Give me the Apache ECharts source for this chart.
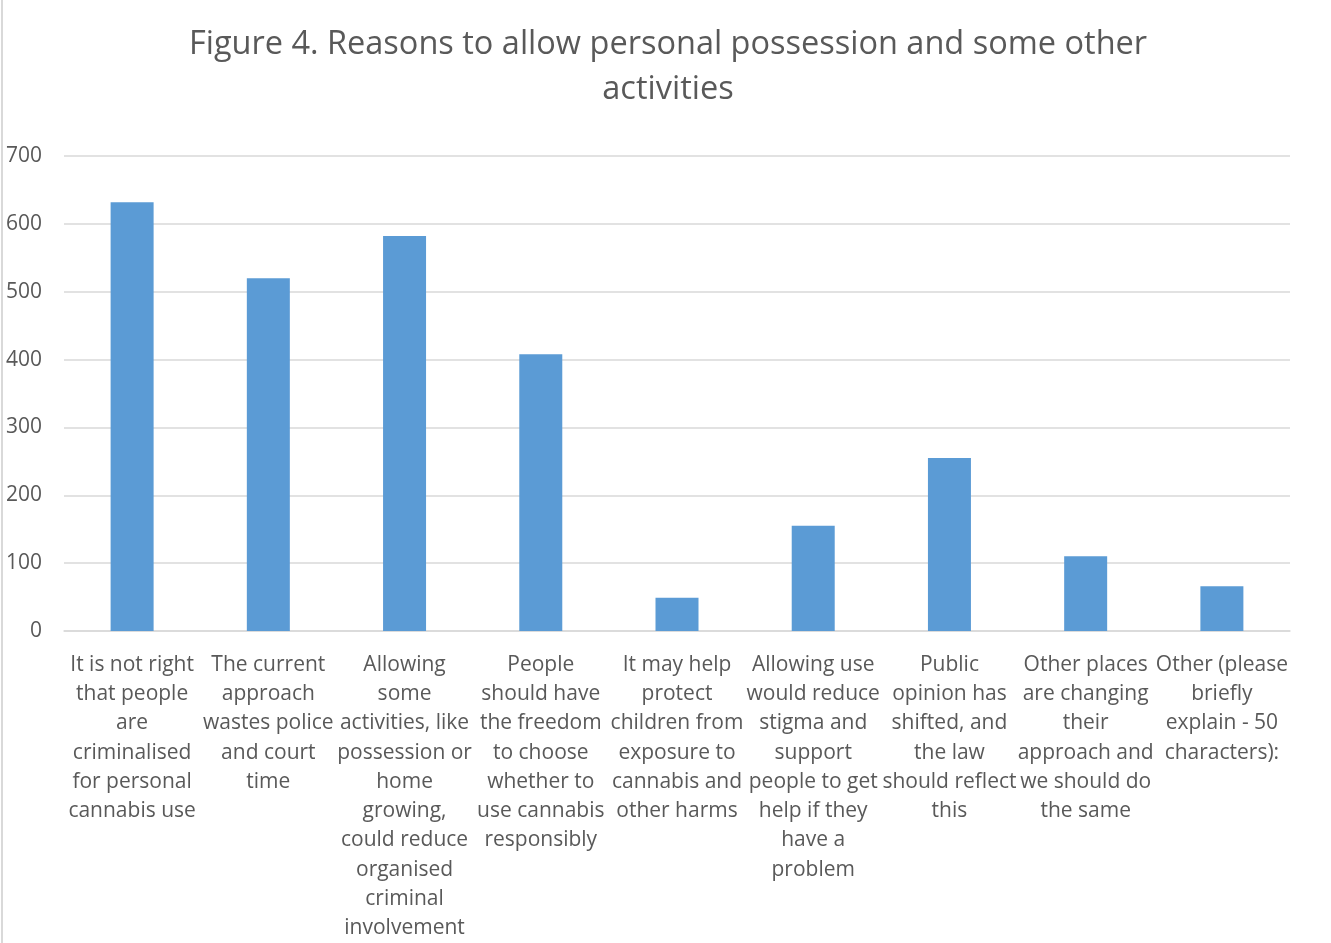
<!DOCTYPE html>
<html>
<head>
<meta charset="utf-8">
<title>Figure 4</title>
<script src="https://cdn.jsdelivr.net/npm/echarts@6/dist/echarts.min.js"></script>
<style>
  html, body { margin: 0; padding: 0; background: #fff; }
  #wrap { position: relative; width: 1331px; height: 943px; }
  #chart { width: 1331px; height: 943px; }
  #edge { position: absolute; left: 1px; top: 0; width: 2px; height: 943px; background: #d9d9d9; }
</style>
</head>
<body>
<div id="wrap">
  <div id="chart"></div>
  <div id="edge"></div>
</div>
<script>
// Response categories (wrapped as in the survey chart)
const categories = [
  'It is not right\nthat people\nare\ncriminalised\nfor personal\ncannabis use',
  'The current\napproach\nwastes police\nand court\ntime',
  'Allowing\nsome\nactivities, like\npossession or\nhome\ngrowing,\ncould reduce\norganised\ncriminal\ninvolvement',
  'People\nshould have\nthe freedom\nto choose\nwhether to\nuse cannabis\nresponsibly',
  'It may help\nprotect\nchildren from\nexposure to\ncannabis and\nother harms',
  'Allowing use\nwould reduce\nstigma and\nsupport\npeople to get\nhelp if they\nhave a\nproblem',
  'Public\nopinion has\nshifted, and\nthe law\nshould reflect\nthis',
  'Other places\nare changing\ntheir\napproach and\nwe should do\nthe same',
  'Other (please\nbriefly\nexplain - 50\ncharacters):'
];

// Number of respondents per reason
const responses = [632, 520, 582, 408, 49, 155, 255, 110, 66];

const chart = echarts.init(document.getElementById('chart'));
const textColor = '#595959';
const fontFamily = '"Open Sans", Lato, sans-serif';

chart.setOption({
  animation: false,
  title: {
    text: 'Figure 4. Reasons to allow personal possession and some other\nactivities',
    left: 663,
    top: 17,
    textAlign: 'center',
    textStyle: {
      color: textColor,
      fontFamily: fontFamily,
      fontSize: 32.5,
      fontWeight: 'normal',
      lineHeight: 45
    }
  },
  grid: { left: 64, right: 41, top: 156, bottom: 311, containLabel: false },
  xAxis: {
    type: 'category',
    data: categories,
    axisLine: { show: true, lineStyle: { color: '#d9d9d9', width: 1.5 } },
    axisTick: { show: false },
    axisLabel: {
      interval: 0,
      color: textColor,
      fontFamily: fontFamily,
      fontSize: 21,
      lineHeight: 29.3,
      margin: 19,
      align: 'center'
    }
  },
  yAxis: {
    type: 'value',
    min: 0,
    max: 700,
    interval: 100,
    axisLine: { show: false },
    axisTick: { show: false },
    splitLine: { lineStyle: { color: '#d9d9d9', width: 1.5 } },
    axisLabel: {
      color: textColor,
      fontFamily: fontFamily,
      fontSize: 21,
      margin: 22,
      padding: [3, 0, 0, 0]
    }
  },
  series: [{
    type: 'bar',
    data: responses,
    barWidth: 43,
    itemStyle: { color: '#5b9bd5' }
  }]
});
</script>
</body>
</html>
